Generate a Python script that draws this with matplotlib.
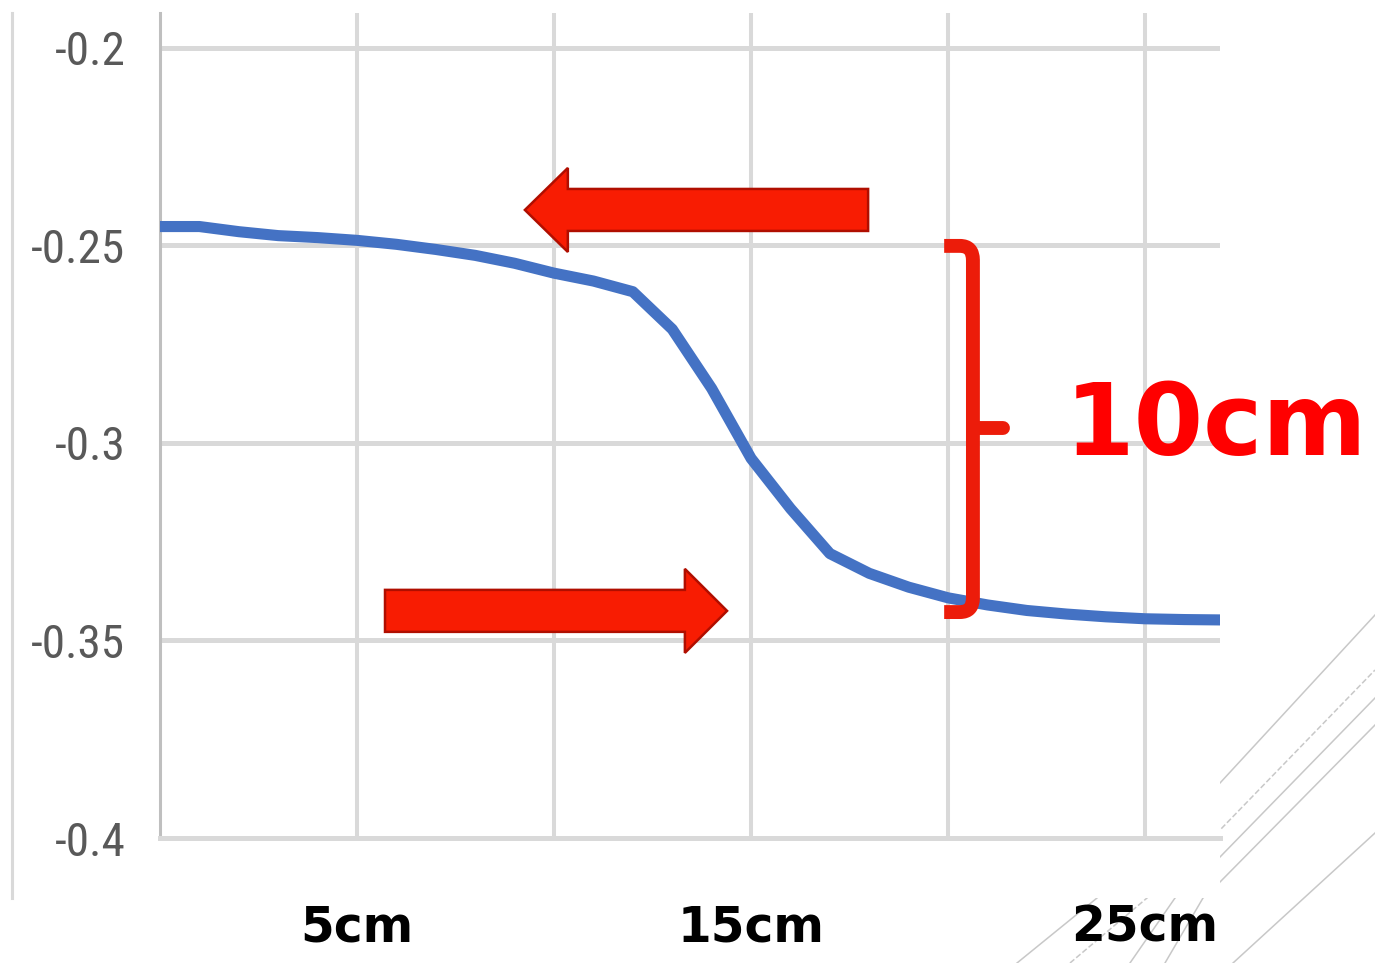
import matplotlib
matplotlib.use("Agg")
import matplotlib.pyplot as plt
from matplotlib.patches import FancyArrow, Rectangle, PathPatch
from matplotlib.path import Path
from matplotlib import font_manager

# Data
depth_cm = list(range(0, 28))
values = [-0.2452, -0.2452, -0.2465, -0.2475, -0.2480, -0.2487, -0.2497,
          -0.2510, -0.2525, -0.2545, -0.2570, -0.2590, -0.2617, -0.2712,
          -0.2862, -0.3039, -0.3166, -0.3280, -0.3330, -0.3365, -0.3392,
          -0.3410, -0.3424, -0.3433, -0.3440, -0.3445, -0.3447, -0.3448]

y_ticks = [-0.4, -0.35, -0.3, -0.25, -0.2]
y_labels = ['-0.4', '-0.35', '-0.3', '-0.25', '-0.2']
x_ticks = [5, 10, 15, 20, 25]
x_labels = ['5cm', '', '15cm', '', '25cm']

# pick a narrow font for the y labels if one is installed
fonts = font_manager.fontManager.ttflist
names = {f.name for f in fonts}
narrow_family, narrow_stretch = 'Liberation Sans', 'normal'
for cand in ['Roboto Condensed', 'Open Sans Condensed', 'Liberation Sans Narrow', 'Noto Sans Condensed']:
    if cand in names:
        narrow_family = cand
        break
else:
    for fam in ['Roboto', 'Open Sans', 'Noto Sans', 'DejaVu Sans']:
        if any(f.name == fam and f.stretch in ('condensed', 'semi-condensed', 'extra-condensed', 300, 200, 100)
               for f in fonts):
            narrow_family, narrow_stretch = fam, 'condensed'
            break

W, H = 1375, 963
fig = plt.figure(figsize=(W / 100, H / 100), dpi=100)

# background decoration (slide lines) in pixel coords
bg = fig.add_axes([0, 0, 1, 1], zorder=0)
bg.set_xlim(0, W)
bg.set_ylim(H, 0)
bg.axis('off')
deco = [
    ([1017, 1097, 1220, 1375], [963, 898, 783, 615], '-'),
    ([1070, 1147, 1220, 1375], [963, 898, 830, 670], '--'),
    ([1130, 1175, 1220, 1375], [963, 898, 857, 698], '-'),
    ([1165, 1203, 1220, 1375], [963, 898, 882, 725], '-'),
    ([1233, 1375], [963, 833], '-'),
]
for xs, ys, ls in deco:
    bg.plot(xs, ys, color='#c8c8c8', lw=1.1, ls=ls, zorder=1)
bg.add_patch(Rectangle((0, 0), 1220, 898, facecolor='white', edgecolor='none', zorder=2))
bg.plot([12, 12], [13, 898], color='#d9d9d9', lw=2.2, zorder=3)

# main chart
ax = fig.add_axes([160 / W, (H - 838) / H, 1060 / W, 825 / H], zorder=1)
ax.plot(depth_cm, values, color='#4472c4', lw=8, solid_capstyle='butt',
        solid_joinstyle='round', zorder=3)

ax.set_xlim(0, 26.9)
ax.set_ylim(-0.4, -0.19114)
ax.set_yticks(y_ticks)
ax.set_yticklabels(y_labels, family=[narrow_family, 'DejaVu Sans'], stretch=narrow_stretch,
                   fontsize=34, color='#595959')
ax.set_xticks(x_ticks)
ax.set_xticklabels(x_labels, family='DejaVu Sans', fontweight='bold', fontsize=35, color='black')
ax.tick_params(axis='y', length=0, pad=25)
ax.tick_params(axis='x', length=0, pad=47)

ax.grid(axis='y', color='#d9d9d9', lw=3.6, zorder=1)
ax.grid(axis='x', color='#d9d9d9', lw=2.9, zorder=1)
ax.set_axisbelow(True)
for s in ['top', 'right']:
    ax.spines[s].set_visible(False)
ax.spines['left'].set_color('#bfbfbf')
ax.spines['left'].set_linewidth(2.2)
ax.spines['bottom'].set_color('#d9d9d9')
ax.spines['bottom'].set_linewidth(3.6)

# red arrows
arrow_kw = dict(width=0.01063, head_width=0.02127, length_includes_head=True,
                fc='#f81c02', ec='#b00e00', lw=1.8, zorder=4, clip_on=False)
ax.add_patch(FancyArrow(17.97, -0.2410, -8.71, 0, head_length=1.09, **arrow_kw))
ax.add_patch(FancyArrow(5.71, -0.3425, 8.68, 0, head_length=1.07, **arrow_kw))

# brace
bx, btop, bbot, bmid = 20.63, -0.2501, -0.3428, -0.2962
hook, rx, ry = 0.73, 0.33, 0.0036
brace = Path(
    [(bx - hook, btop), (bx - rx, btop), (bx, btop), (bx, btop - ry),
     (bx, bbot + ry), (bx, bbot), (bx - rx, bbot), (bx - hook, bbot)],
    [Path.MOVETO, Path.LINETO, Path.CURVE3, Path.CURVE3,
     Path.LINETO, Path.CURVE3, Path.CURVE3, Path.LINETO])
ax.add_patch(PathPatch(brace, fill=False, ec='#ec1c0a', lw=10, capstyle='butt',
                       joinstyle='round', zorder=5, clip_on=False))
ax.plot([bx, bx + 0.77], [bmid, bmid], color='#ec1c0a', lw=10,
        solid_capstyle='round', zorder=5, clip_on=False)

ax.text(26.8, -0.3030, '10cm', color='#ff0000', fontsize=72, fontweight='bold',
        family='DejaVu Sans', ha='center', va='baseline', zorder=6, clip_on=False)

fig.savefig('out.png', dpi=100)
